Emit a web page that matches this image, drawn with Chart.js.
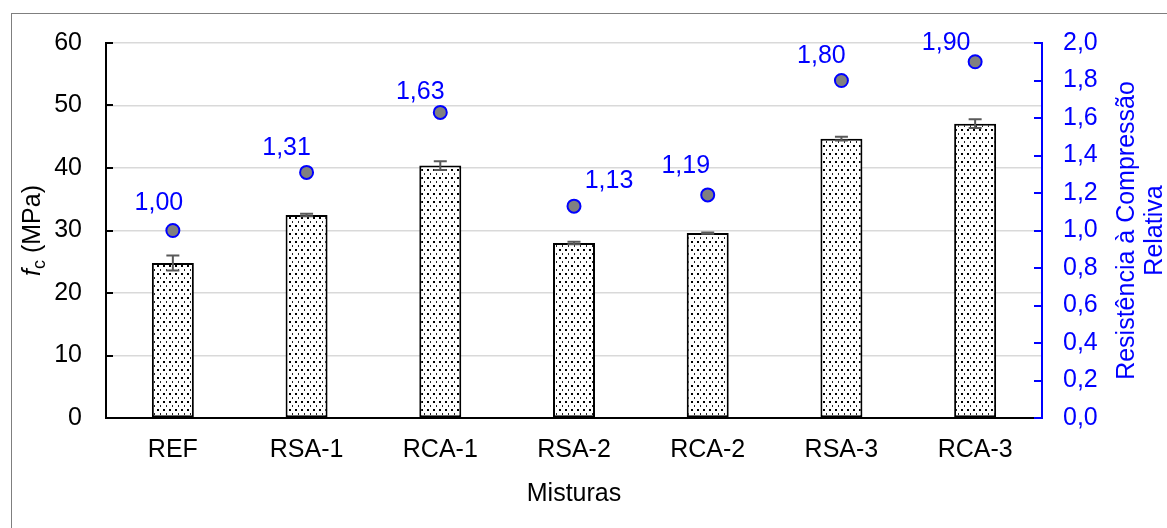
<!DOCTYPE html>
<html>
<head>
<meta charset="utf-8">
<script src="https://cdn.jsdelivr.net/npm/chart.js@4/dist/chart.umd.min.js"></script>
<style>
  html, body { margin: 0; padding: 0; background: #ffffff; }
  canvas { display: block; }
</style>
</head>
<body>
<canvas id="chart" width="1167" height="528"></canvas>
<script>
// Mixtures and their measured compressive strength (MPa) with deviation
const categories = ['REF', 'RSA-1', 'RCA-1', 'RSA-2', 'RCA-2', 'RSA-3', 'RCA-3'];
const fcValues = [24.8, 32.5, 40.4, 28.0, 29.6, 44.7, 47.1];
const fcErrors = [1.2, 0.2, 0.7, 0.2, 0.1, 0.3, 0.7];
// Strength relative to the reference mixture
const relativeValues = [1.00, 1.31, 1.63, 1.13, 1.19, 1.80, 1.90];
// Axis tick values
const fcTicks = [0, 10, 20, 30, 40, 50, 60];
const relTicks = [0, 0.2, 0.4, 0.6, 0.8, 1.0, 1.2, 1.4, 1.6, 1.8, 2.0];

// Where each relative-value label sits around its marker (px)
const labelShift = [[-14, -27], [-20, -24], [-20, -20], [35, -25], [-22, -29], [-20, -24], [-29, -19]];

const FONT = '"Liberation Sans", Arial, sans-serif';
const FS = 25;
const BLUE = '#0000ff';

// Dotted fill for the bars
function dotPattern() {
  const p = document.createElement('canvas');
  p.width = 6; p.height = 8;
  const g = p.getContext('2d');
  g.fillStyle = '#ffffff';
  g.fillRect(0, 0, 6, 8);
  g.fillStyle = '#000000';
  g.fillRect(1, 1, 2, 2);
  g.fillStyle = '#222222';
  g.fillRect(4, 5, 1, 2);
  const ctx = document.getElementById('chart').getContext('2d');
  return ctx.createPattern(p, 'repeat');
}

const comma = (v, d) => v.toFixed(d).replace('.', ',');

const decorations = {
  id: 'decorations',
  beforeDraw(chart) {
    const ctx = chart.ctx;
    ctx.save();
    ctx.fillStyle = '#ffffff';
    ctx.fillRect(0, 0, chart.width, chart.height);
    // outer frame
    ctx.strokeStyle = '#7f7f7f';
    ctx.lineWidth = 1;
    ctx.strokeRect(11.5, 13.5, chart.width + 20, chart.height + 20);
    ctx.restore();
  },
  afterDatasetDraw(chart, args) {
    if (args.index !== 1) return;
    const ctx = chart.ctx;
    const x = chart.scales.x, y = chart.scales.y;
    ctx.save();
    ctx.strokeStyle = '#595959';
    ctx.lineWidth = 2;
    fcValues.forEach((v, i) => {
      const cx = x.getPixelForValue(i);
      const top = y.getPixelForValue(v + fcErrors[i]);
      const bot = y.getPixelForValue(v - fcErrors[i]);
      ctx.beginPath();
      ctx.moveTo(cx, top); ctx.lineTo(cx, bot);
      ctx.moveTo(cx - 6.5, top); ctx.lineTo(cx + 6.5, top);
      ctx.moveTo(cx - 6.5, bot); ctx.lineTo(cx + 6.5, bot);
      ctx.stroke();
    });
    ctx.restore();
  },
  afterDraw(chart) {
    const ctx = chart.ctx;
    const { x, y, y1 } = chart.scales;
    const area = chart.chartArea;
    ctx.save();
    // inside tick marks
    ctx.lineWidth = 2;
    ctx.strokeStyle = '#000000';
    fcTicks.forEach(v => {
      const py = Math.round(y.getPixelForValue(v));
      ctx.beginPath(); ctx.moveTo(area.left, py); ctx.lineTo(area.left + 7, py); ctx.stroke();
    });
    ctx.strokeStyle = BLUE;
    relTicks.forEach(v => {
      const py = Math.round(y1.getPixelForValue(v));
      ctx.beginPath(); ctx.moveTo(area.right, py); ctx.lineTo(area.right - 8, py); ctx.stroke();
    });

    // value labels for the relative strength points
    ctx.fillStyle = BLUE;
    ctx.font = FS + 'px ' + FONT;
    ctx.textAlign = 'center';
    ctx.textBaseline = 'middle';
    relativeValues.forEach((v, i) => {
      const px = x.getPixelForValue(i) + labelShift[i][0];
      const py = y1.getPixelForValue(v) + labelShift[i][1];
      ctx.fillText(comma(v, 2), px, py);
    });

    const midY = (area.top + area.bottom) / 2;
    // left axis title: f_c (MPa)
    ctx.save();
    ctx.translate(31, midY);
    ctx.rotate(-Math.PI / 2);
    ctx.fillStyle = '#000000';
    ctx.textAlign = 'left';
    ctx.textBaseline = 'alphabetic';
    const fIt = 'italic ' + FS + 'px ' + FONT;
    const fSub = Math.round(FS * 0.7) + 'px ' + FONT;
    const fReg = FS + 'px ' + FONT;
    ctx.font = fIt; const wf = ctx.measureText('f').width;
    ctx.font = fSub; const wc = ctx.measureText('c').width;
    ctx.font = fReg; const wr = ctx.measureText(' (MPa)').width;
    let x0 = -(wf + wc + wr) / 2;
    const base = FS * 0.36;
    ctx.font = fIt; ctx.fillText('f', x0, base); x0 += wf;
    ctx.font = fSub; ctx.fillText('c', x0, base + 5); x0 += wc;
    ctx.font = fReg; ctx.fillText(' (MPa)', x0, base);
    ctx.restore();

    // right axis title, two lines
    ctx.save();
    ctx.fillStyle = BLUE;
    ctx.font = FS + 'px ' + FONT;
    ctx.textAlign = 'center';
    ctx.textBaseline = 'middle';
    [['Resistência à Compressão', 1127], ['Relativa', 1155]].forEach(([t, tx]) => {
      ctx.save();
      ctx.translate(tx, midY);
      ctx.rotate(-Math.PI / 2);
      ctx.fillText(t, 0, 0);
      ctx.restore();
    });
    ctx.restore();
    ctx.restore();
  }
};

new Chart(document.getElementById('chart'), {
  type: 'bar',
  data: {
    labels: categories,
    datasets: [
      {
        type: 'line',
        label: 'Relativa',
        data: relativeValues,
        yAxisID: 'y1',
        showLine: false,
        pointRadius: 6.5,
        pointBackgroundColor: '#808080',
        pointBorderColor: BLUE,
        pointBorderWidth: 2,
        order: 0
      },
      {
        type: 'bar',
        label: 'fc',
        data: fcValues,
        yAxisID: 'y',
        backgroundColor: dotPattern(),
        borderColor: '#000000',
        borderWidth: 2,
        borderSkipped: false,
        categoryPercentage: 1,
        barPercentage: 0.314,
        order: 1
      }
    ]
  },
  options: {
    responsive: false,
    animation: false,
    events: [],
    layout: { padding: { top: 43, left: 0, right: 0, bottom: 0 } },
    plugins: { legend: { display: false }, tooltip: { enabled: false } },
    scales: {
      x: {
        grid: { display: false, drawTicks: false },
        border: { display: true, color: '#000000', width: 2 },
        ticks: { color: '#000000', font: { family: FONT, size: FS }, padding: 17 },
        title: { display: true, text: 'Misturas', color: '#000000', font: { family: FONT, size: FS }, padding: { top: 0, bottom: 19 } },
        afterFit(s) { s.height = 110; }
      },
      y: {
        position: 'left',
        min: 0, max: 60,
        afterBuildTicks(s) { s.ticks = fcTicks.map(v => ({ value: v })); },
        grid: { color: '#d9d9d9', lineWidth: 1.5, drawTicks: false },
        border: { display: true, color: '#000000', width: 2 },
        ticks: { color: '#000000', font: { family: FONT, size: FS }, padding: 24 },
        afterFit(s) { s.width = 106; }
      },
      y1: {
        position: 'right',
        min: 0, max: 2,
        afterBuildTicks(s) { s.ticks = relTicks.map(v => ({ value: v })); },
        grid: { display: false, drawTicks: false },
        border: { display: true, color: BLUE, width: 2 },
        ticks: { color: BLUE, font: { family: FONT, size: FS }, padding: 21, callback: v => comma(v, 1) },
        afterFit(s) { s.width = 125; }
      }
    }
  },
  plugins: [decorations]
});
</script>
</body>
</html>
